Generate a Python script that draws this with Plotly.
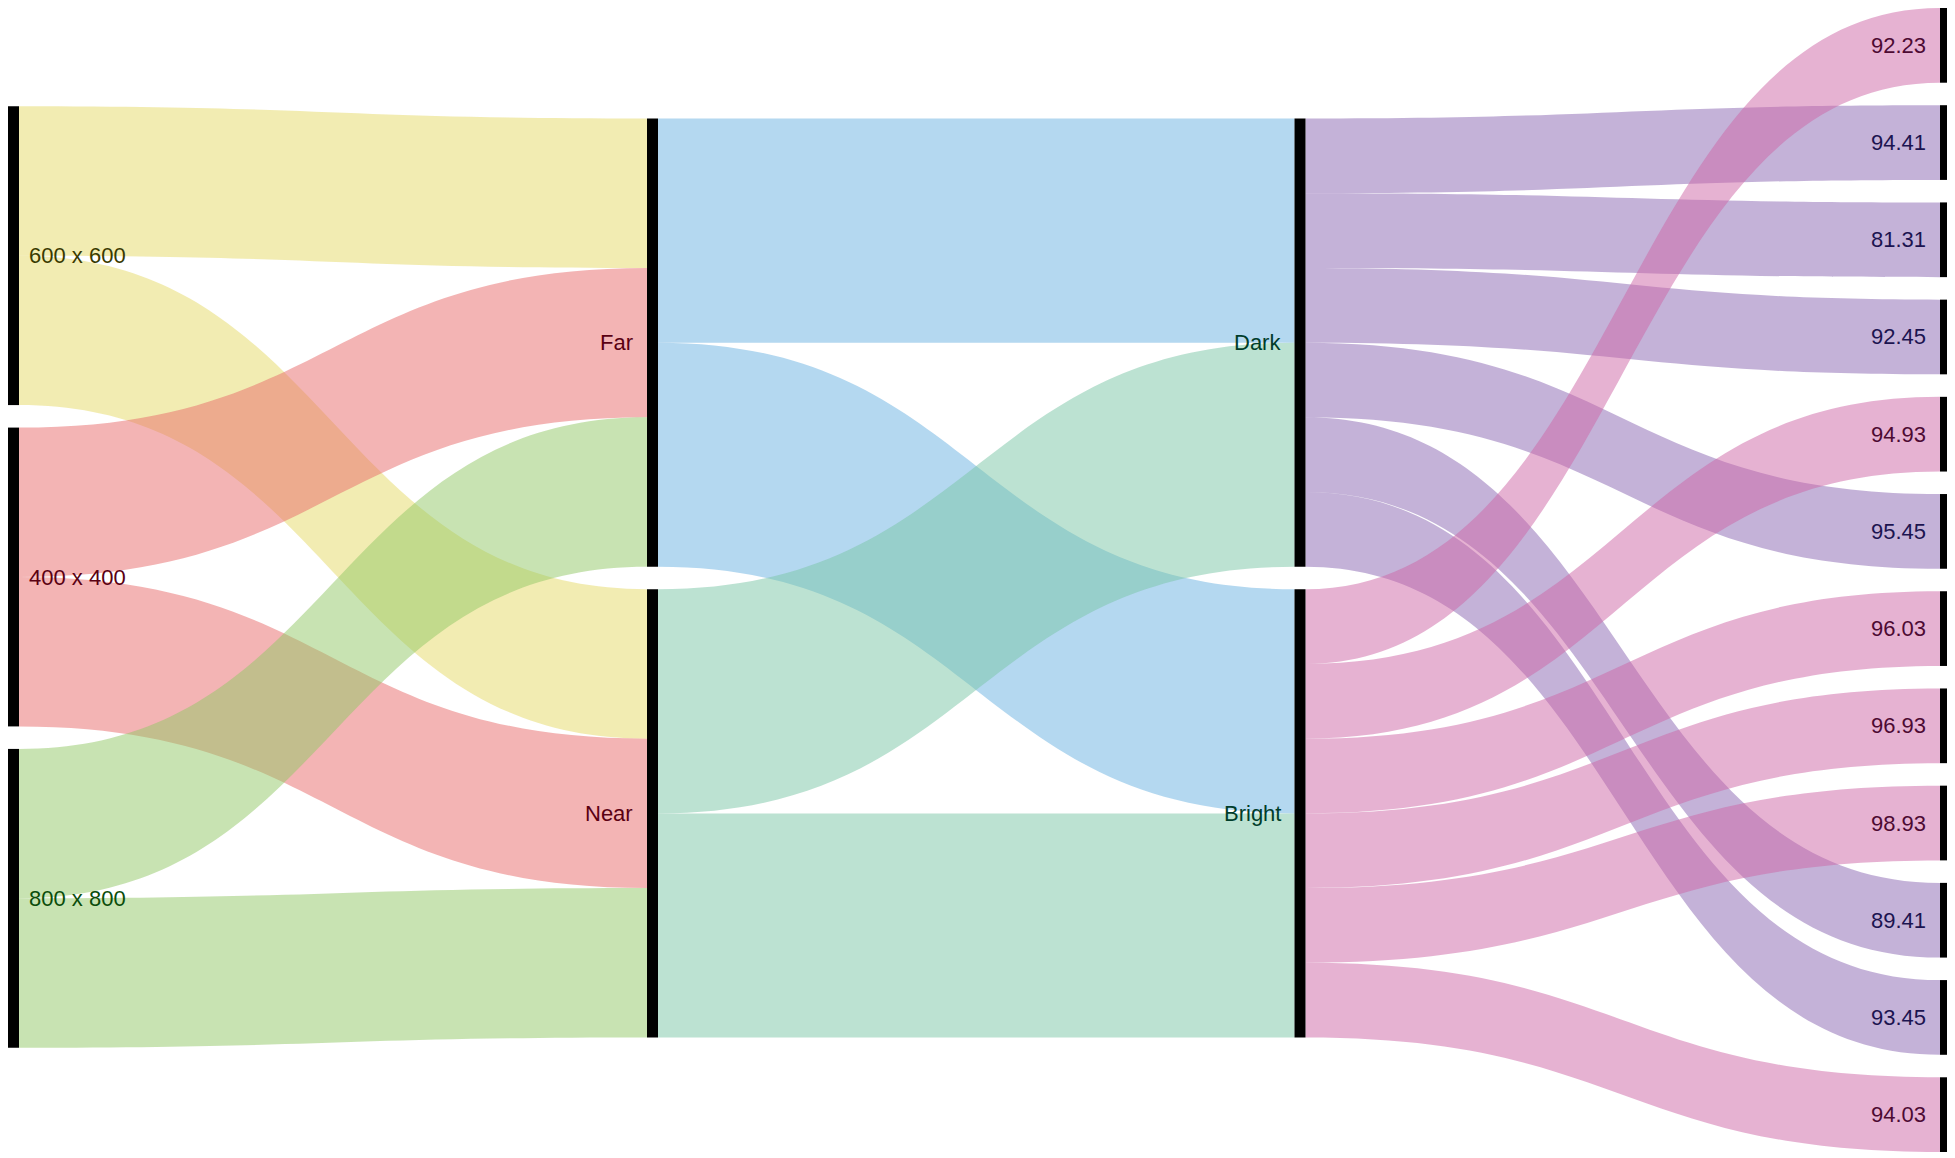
import plotly.graph_objects as go

# data
sizes = ["600 x 600", "400 x 400", "800 x 800"]
distances = ["Far", "Near"]
lighting = ["Dark", "Bright"]
dark_results = ["94.41", "81.31", "92.45", "95.45", "89.41", "93.45"]
bright_results = ["92.23", "94.93", "96.03", "96.93", "98.93", "94.03"]
# order of the result nodes from top to bottom
results_order = ["92.23", "94.41", "81.31", "92.45", "94.93", "95.45",
                 "96.03", "96.93", "98.93", "89.41", "93.45", "94.03"]

size_to_distance = [1, 1]      # each size split evenly to Far / Near
distance_to_light = [1.5, 1.5]  # each distance split to Dark / Bright
light_to_result = 0.5

# colours
size_colors = ["rgba(229,217,101,0.5)", "rgba(231,105,105,0.5)", "rgba(145,199,101,0.5)"]
distance_colors = ["rgba(105,177,225,0.5)", "rgba(121,197,165,0.5)"]
light_colors = ["rgba(137,101,177,0.5)", "rgba(205,101,165,0.5)"]
size_label_colors = ["#3a3a00", "#5a0012", "#0b4d0b"]
distance_label_color = "#5a0012"
light_label_color = "#003d2a"
result_label_colors = {"Dark": "#1c1450", "Bright": "#4d0a33"}

columns = [sizes, distances, lighting, results_order]
nodes = [n for col in columns for n in col]
idx = {n: i for i, n in enumerate(nodes)}

src, tgt, val, col = [], [], [], []
for s, c in zip(sizes, size_colors):
    for d, v in zip(distances, size_to_distance):
        src.append(idx[s]); tgt.append(idx[d]); val.append(v); col.append(c)
for d, c in zip(distances, distance_colors):
    for l, v in zip(lighting, distance_to_light):
        src.append(idx[d]); tgt.append(idx[l]); val.append(v); col.append(c)
for l, c, res in zip(lighting, light_colors, [dark_results, bright_results]):
    for r in res:
        src.append(idx[l]); tgt.append(idx[r]); val.append(light_to_result); col.append(c)

# layout of the node columns (page body adds an 8px offset)
W, H = 1955, 1158
MT, MB = 0, 14
PH = H - MT - MB
PAD = 22.5
THICK = 11
col_x_px = [5.5, 644.5, 1292, 1937.5]
col_center_shift = [-3, -2, -2, 0]

node_val = []
for n in nodes:
    i = idx[n]
    vin = sum(v for t, v in zip(tgt, val) if t == i)
    vout = sum(v for s, v in zip(src, val) if s == i)
    node_val.append(max(vin, vout))

ky = min((PH - (len(c) - 1) * PAD) / sum(node_val[idx[n]] for n in c) for c in columns)

node_x, node_y = [], []
for ci, c in enumerate(columns):
    total = sum(node_val[idx[n]] for n in c) * ky + (len(c) - 1) * PAD
    y = (PH - total) / 2 + col_center_shift[ci]
    for n in c:
        h = node_val[idx[n]] * ky
        node_x.append(col_x_px[ci] / W)
        node_y.append((y + h / 2) / PH)
        y += h + PAD

fig = go.Figure(go.Sankey(
    arrangement="fixed",
    node=dict(
        label=[""] * len(nodes),
        x=node_x,
        y=node_y,
        pad=PAD,
        thickness=THICK,
        color="black",
        line=dict(width=0),
    ),
    link=dict(source=src, target=tgt, value=val, color=col),
    hoverinfo="none",
))

# node labels
label_color = {}
for s, c in zip(sizes, size_label_colors):
    label_color[s] = c
for d in distances:
    label_color[d] = distance_label_color
for l in lighting:
    label_color[l] = light_label_color
for r in dark_results:
    label_color[r] = result_label_colors["Dark"]
for r in bright_results:
    label_color[r] = result_label_colors["Bright"]

for ci, c in enumerate(columns):
    for n in c:
        i = idx[n]
        if ci == 0:
            x = (col_x_px[ci] + THICK / 2 + 8) / W
            anchor = "left"
        else:
            x = (col_x_px[ci] - THICK / 2 - 12) / W
            anchor = "right"
        fig.add_annotation(
            x=x, y=1 - node_y[i], xref="paper", yref="paper",
            text=n, showarrow=False, xanchor=anchor, yanchor="middle",
            font=dict(family="Arial", size=22, color=label_color[n]),
        )

fig.update_layout(
    width=W,
    height=H,
    margin=dict(l=0, r=0, t=MT, b=MB),
    paper_bgcolor="white",
    font=dict(family="Arial"),
)

fig.write_html("out.html")
